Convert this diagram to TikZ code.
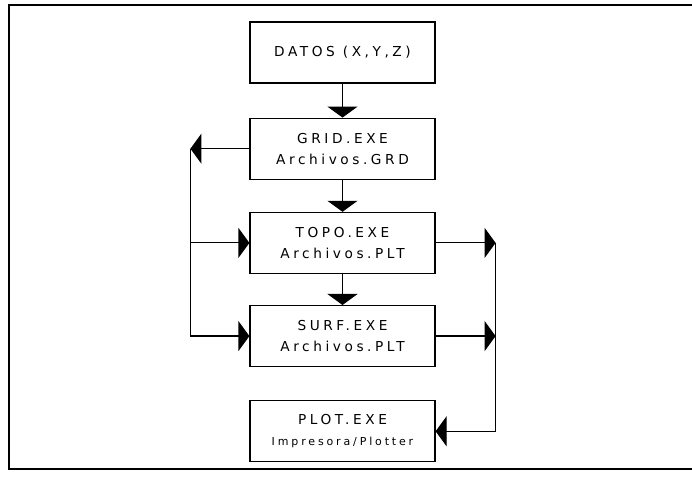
\documentclass[tikz,border=0pt]{standalone}
\usepackage{fontspec}
\newfontfamily\plotfont[LetterSpace=26]{DejaVu Sans}
\usetikzlibrary{arrows.meta,positioning,calc}
\tikzset{
  >={Triangle[length=11pt,width=30pt]},
  box/.style  ={draw,line width=1.2pt,minimum width=185pt,minimum height=61pt,
                align=center,inner sep=2pt,
                font=\plotfont\fontsize{13.7}{21}\selectfont},
  small/.style={font=\plotfont\fontsize{11}{20}\selectfont},
  flow/.style ={->,line width=1.2pt},
  frame/.style={line width=1.8pt},
}

\begin{document}
\begin{tikzpicture}[x=1pt,y=1pt]
\useasboundingbox (0,0) rectangle (692,479);
\draw[frame] (692,474) -- (9,474) -- (9,10) -- (692,10);
\node[box] (datos) at (342.5,426.5) {DATOS (X,Y,Z)};
\node[box,below=34pt of datos] (grid) {GRID.EXE\\Archivos.GRD};
\node[box,below=32pt of grid] (topo) {TOPO.EXE\\Archivos.PLT};
\node[box,below=31pt of topo] (surf) {SURF.EXE\\Archivos.PLT};
\node[box,below=33pt of surf] (plot) {PLOT.EXE\\{\fontsize{11}{20}\selectfont Impresora/Plotter}};
\foreach \a/\b in {datos/grid,grid/topo,topo/surf} \draw[flow] (\a) -- (\b);
% side loops: grid feeds both viewers, both send to the plotter
\coordinate (lc) at ($(grid.west)+(-59pt,0)$);
\coordinate (rc) at ($(topo.east)+(60pt,0)$);
\coordinate (rs) at (surf.east -| rc);
\draw[flow] (grid.west) -- (lc);
\draw[flow] (lc) |- (topo.west);
\draw[flow] (lc) |- (surf.west);
\draw[flow] (topo.east) -- (rc);
\draw[flow] (surf.east) -- (rs);
\draw[flow] (rc) |- (plot.east);
\end{tikzpicture}
\end{document}
